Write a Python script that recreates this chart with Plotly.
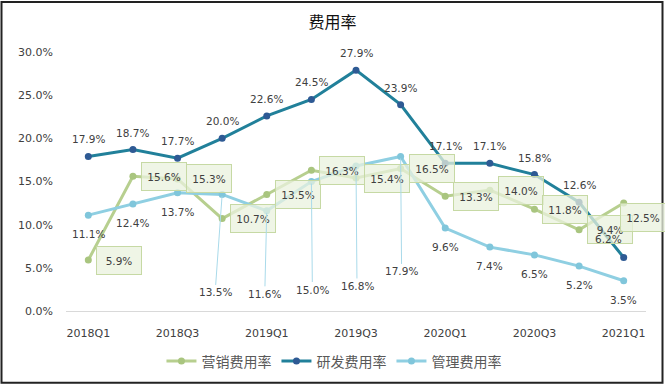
import plotly.graph_objects as go

quarters = ["2018Q1", "2018Q2", "2018Q3", "2018Q4", "2019Q1", "2019Q2", "2019Q3",
            "2019Q4", "2020Q1", "2020Q2", "2020Q3", "2020Q4", "2021Q1"]
tick_labels = ["2018Q1", "2018Q3", "2019Q1", "2019Q3", "2020Q1", "2020Q3", "2021Q1"]
marketing = [5.9, 15.6, 15.3, 10.7, 13.5, 16.3, 15.4, 16.5, 13.3, 14.0, 11.8, 9.4, 12.5]
rnd = [17.9, 18.7, 17.7, 20.0, 22.6, 24.5, 27.9, 23.9, 17.1, 17.1, 15.8, 12.6, 6.2]
admin = [11.1, 12.4, 13.7, 13.5, 11.6, 15.0, 16.8, 17.9, 9.6, 7.4, 6.5, 5.2, 3.5]
names = ["营销费用率", "研发费用率", "管理费用率"]

C_MKT, C_MKT_M = "#B7CF8F", "#A9C57F"
C_RND, C_RND_M = "#21809A", "#2E5A94"
C_ADM, C_ADM_M = "#8FCFE2", "#80C6DB"
LABEL_FONT = dict(family="DejaVu Sans", size=10.5, color="#404040")

fig = go.Figure()
for vals, name, lc, mc in [(marketing, names[0], C_MKT, C_MKT_M),
                           (rnd, names[1], C_RND, C_RND_M),
                           (admin, names[2], C_ADM, C_ADM_M)]:
    fig.add_trace(go.Scatter(x=quarters, y=vals, name=name, mode="lines+markers",
                             line=dict(color=lc, width=3),
                             marker=dict(color=mc, size=7)))

ann = []
# Marketing labels: boxed, right
for i, (q, v) in enumerate(zip(quarters, marketing)):
    xs, ys = (19, -14) if i == len(quarters) - 1 else (31, 0)
    ann.append(dict(x=q, y=v, text=f"{v:.1f}%", showarrow=False, xshift=xs, yshift=ys,
                    font=LABEL_FONT, bgcolor="rgba(234,241,222,0.75)",
                    bordercolor="#C6D9A4", borderwidth=1, borderpad=1,
                    width=42, height=25))
# R&D labels: above
for i, (q, v) in enumerate(zip(quarters, rnd)):
    xs, ys = (-15, 18) if i == len(quarters) - 1 else (0, 17)
    ann.append(dict(x=q, y=v, text=f"{v:.1f}%", showarrow=False, xshift=xs, yshift=ys,
                    font=LABEL_FONT))
# Admin labels: below, some with leader lines
leader = {3: (-7, 98), 4: (-2, 83), 5: (1, 108), 6: (1, 120), 7: (1, 115)}
for i, (q, v) in enumerate(zip(quarters, admin)):
    if i in leader:
        ax, ay = leader[i]
        ann.append(dict(x=q, y=v, text=f"{v:.1f}%", showarrow=True, arrowhead=0,
                        arrowwidth=1, arrowcolor="#A9DAEA", ax=ax, ay=ay, standoff=2,
                        font=LABEL_FONT))
    else:
        ann.append(dict(x=q, y=v, text=f"{v:.1f}%", showarrow=False, yshift=-19,
                        font=LABEL_FONT))

fig.update_layout(
    width=665, height=390,
    margin=dict(l=66, r=19, t=52, b=76),
    paper_bgcolor="white", plot_bgcolor="white",
    title=dict(text="费用率", x=0.5, xanchor="center", y=1 - 22 / 390, yanchor="middle",
               font=dict(family="Noto Sans CJK SC", size=16, color="#111111")),
    xaxis=dict(type="category", range=[-0.5, 12.5], tickvals=tick_labels,
               ticktext=tick_labels, showgrid=False, showline=True, linecolor="#D9D9D9",
               linewidth=1, ticks="outside", ticklen=12, tickcolor="rgba(0,0,0,0)",
               tickfont=dict(family="DejaVu Sans", size=11, color="#404040"),
               zeroline=False),
    yaxis=dict(range=[0, 30], tickvals=[0, 5, 10, 15, 20, 25, 30],
               ticktext=["0.0%", "5.0%", "10.0%", "15.0%", "20.0%", "25.0%", "30.0%"],
               showgrid=False, zeroline=False, showline=False, ticklabelstandoff=12,
               tickfont=dict(family="DejaVu Sans", size=11, color="#404040")),
    legend=dict(orientation="h", x=0.462, xanchor="center", y=-0.195, yanchor="middle",
                font=dict(family="Noto Sans CJK SC", size=14, color="#595959"),
                itemwidth=30),
    annotations=ann,
    showlegend=True,
)
# outer border
fig.add_shape(type="rect", xref="paper", yref="paper",
              x0=(1.5 - 66) / 580, x1=(662.5 - 66) / 580,
              y0=(314 - 386.5) / 262, y1=(314 - 1.5) / 262,
              line=dict(color="#222222", width=2), layer="above")

fig.write_html("out.html", config={"displayModeBar": False},
               post_script="document.body.style.margin='0';document.body.style.overflow='hidden';")
